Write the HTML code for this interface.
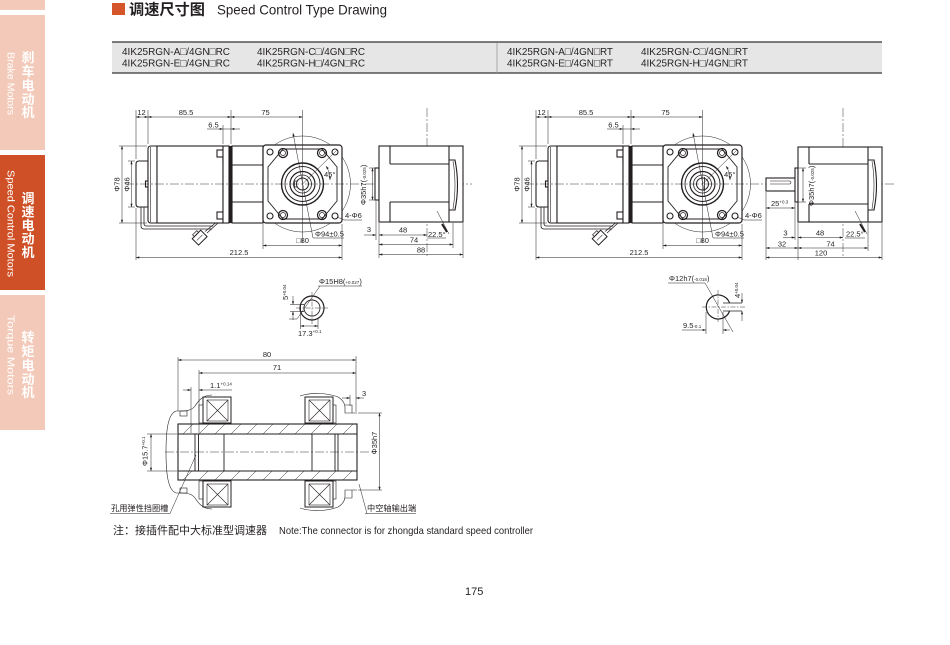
<!DOCTYPE html>
<html><head><meta charset="utf-8">
<style>
html,body{margin:0;padding:0;background:#fff;}
svg{display:block;}
text{font-family:"Liberation Sans","Noto Sans CJK SC",sans-serif;}
</style></head>
<body>
<svg width="950" height="645" viewBox="0 0 950 645" xmlns="http://www.w3.org/2000/svg">
<defs>
<marker id="ar" viewBox="0 0 6 4" refX="6" refY="2" markerWidth="4.5" markerHeight="2.2" orient="auto-start-reverse" markerUnits="userSpaceOnUse"><path d="M0,0L6,2L0,4z" fill="#231f20"/></marker>
</defs>
<rect width="950" height="645" fill="#fff"/>

<!-- sidebar -->
<rect x="0" y="0" width="45" height="10" fill="#f3cab9"/>
<rect x="0" y="15" width="45" height="135" fill="#f3cab9"/>
<rect x="0" y="155" width="45" height="135" fill="#cf5026"/>
<rect x="0" y="295" width="45" height="135" fill="#f3cab9"/>
<g fill="#fff" font-size="13" font-weight="bold" text-anchor="middle">
<text x="28" y="62">刹</text><text x="28" y="76">车</text><text x="28" y="90">电</text><text x="28" y="104">动</text><text x="28" y="117">机</text>
<text x="28" y="203">调</text><text x="28" y="216.5">速</text><text x="28" y="230">电</text><text x="28" y="243.5">动</text><text x="28" y="257">机</text>
<text x="28" y="342">转</text><text x="28" y="356">矩</text><text x="28" y="370">电</text><text x="28" y="384">动</text><text x="28" y="397">机</text>
</g>
<g fill="#fff" font-size="10">
<text transform="translate(7.5,52) rotate(90)" textLength="63" lengthAdjust="spacingAndGlyphs">Brake Motors</text>
<text transform="translate(7.5,170) rotate(90)" textLength="107" lengthAdjust="spacingAndGlyphs">Speed Control Motors</text>
<text transform="translate(7.5,315) rotate(90)" textLength="80" lengthAdjust="spacingAndGlyphs">Torque Motors</text>
</g>

<!-- header -->
<rect x="112" y="3" width="13" height="12" fill="#d4562a"/>
<text x="129" y="14.5" font-size="15" font-weight="bold" fill="#231f20" textLength="76" lengthAdjust="spacingAndGlyphs">调速尺寸图</text>
<text x="217" y="14.5" font-size="14" fill="#231f20" textLength="170" lengthAdjust="spacingAndGlyphs">Speed Control Type Drawing</text>

<!-- table -->
<rect x="112" y="42" width="770" height="31" fill="#e6e6e6"/>
<line x1="112" y1="42" x2="882" y2="42" stroke="#333" stroke-width="1.3"/>
<line x1="112" y1="73" x2="882" y2="73" stroke="#333" stroke-width="1.3"/>
<line x1="497" y1="43" x2="497" y2="73" stroke="#999" stroke-width="0.8"/>
<g font-size="10.5" fill="#231f20">
<text x="122" y="55" textLength="108" lengthAdjust="spacingAndGlyphs">4IK25RGN-A□/4GN□RC</text>
<text x="122" y="66.5" textLength="108" lengthAdjust="spacingAndGlyphs">4IK25RGN-E□/4GN□RC</text>
<text x="257" y="55" textLength="108" lengthAdjust="spacingAndGlyphs">4IK25RGN-C□/4GN□RC</text>
<text x="257" y="66.5" textLength="108" lengthAdjust="spacingAndGlyphs">4IK25RGN-H□/4GN□RC</text>
<text x="507" y="55" textLength="106" lengthAdjust="spacingAndGlyphs">4IK25RGN-A□/4GN□RT</text>
<text x="507" y="66.5" textLength="106" lengthAdjust="spacingAndGlyphs">4IK25RGN-E□/4GN□RT</text>
<text x="641" y="55" textLength="107" lengthAdjust="spacingAndGlyphs">4IK25RGN-C□/4GN□RT</text>
<text x="641" y="66.5" textLength="107" lengthAdjust="spacingAndGlyphs">4IK25RGN-H□/4GN□RT</text>
</g>

<!-- ============ gear motor group (left) ============ -->
<g id="gm">
 <g stroke="#231f20" fill="none">
  <circle cx="302.5" cy="184" r="48" stroke-width="0.5"/>
  <path d="M141,206 V226 Q141,229 144,229 H212 M144,206 V223.5 Q144,226 146.5,226 H213" stroke-width="0.8"/>
  <path d="M218,223 L207,233 M215.5,223 L205,231.5" stroke-width="0.8"/>
  <g transform="rotate(-45 200 238)"><rect x="194" y="233" width="12" height="9" fill="#fff" stroke-width="1"/><rect x="197" y="230.5" width="6" height="2.5" stroke-width="0.7"/><line x1="196" y1="237.5" x2="204" y2="237.5" stroke-width="0.5"/></g>
 </g>
 <g fill="#fff" stroke="#231f20" stroke-width="1.1">
  <path d="M148,161 L139,161 Q136,161 136,164 L136,204 Q136,207 139,207 L148,207 Z"/>
  <rect x="145.5" y="181" width="3" height="6"/>
  <path d="M157,146 L151,146 Q148,146 148,149 L148,220 Q148,223 151,223 L157,223 Z"/>
  <rect x="157" y="146" width="66" height="77"/>
  <rect x="217" y="150" width="6" height="7"/>
  <rect x="223" y="157" width="4" height="6"/>
  <rect x="217" y="212" width="6" height="7"/>
  <rect x="223" y="146" width="6" height="77"/>
  <rect x="232" y="146" width="31" height="77"/>
  <path d="M232,165 L263,165 M232,202 L263,202" fill="none"/>
  <line x1="150.5" y1="147" x2="150.5" y2="222" fill="none" stroke-width="0.6"/>
 </g>
 <rect x="229" y="146" width="3" height="77" fill="#231f20"/>
 <g stroke="#231f20" fill="none">
  <rect x="263" y="145" width="79" height="78" rx="3" fill="#fff" stroke-width="1.2"/>
  <path d="M283,149 L322,149 L337,167 L337,201 L322,219 L283,219 L268,201 L268,167 Z" stroke-width="0.9"/>
  <g stroke-width="1.1">
   <circle cx="270" cy="152" r="3"/><circle cx="335" cy="152" r="3"/>
   <circle cx="270" cy="216" r="3"/><circle cx="335" cy="216" r="3"/>
  </g>
  <g stroke-width="1.3">
   <circle cx="283" cy="153" r="4.5"/><circle cx="322" cy="153" r="4.5"/>
   <circle cx="283" cy="215" r="4.5"/><circle cx="322" cy="215" r="4.5"/>
  </g>
  <g stroke-width="0.7">
   <circle cx="283" cy="153" r="2.5"/><circle cx="322" cy="153" r="2.5"/>
   <circle cx="283" cy="215" r="2.5"/><circle cx="322" cy="215" r="2.5"/>
  </g>
  <circle cx="302.5" cy="184" r="21" stroke-width="1.4"/>
  <circle cx="302.5" cy="184" r="17.5" stroke-width="0.9"/>
  <circle cx="302.5" cy="184" r="12.5" stroke-width="1.2"/>
  <circle cx="302.5" cy="184" r="9" stroke-width="0.8"/>
 </g>
 <g stroke="#231f20" fill="none" stroke-width="0.5">
  <line x1="302.5" y1="110" x2="302.5" y2="243"/>
  <line x1="293" y1="133" x2="313" y2="238" marker-start="url(#ar)"/>
  <line x1="313" y1="238" x2="344" y2="238"/>
  <line x1="302.5" y1="184" x2="337" y2="150"/>
  <path d="M326,166 Q330,172 330,180" marker-end="url(#ar)" marker-start="url(#ar)"/>
  <line x1="337" y1="217" x2="344" y2="220"/>
  <line x1="344" y1="220" x2="362" y2="220"/>
 </g>
 <g stroke="#231f20" fill="none" stroke-width="0.5">
  <path d="M136,159 V110 M148,144 V110 M231,144 V110 M223,144 V125"/>
  <line x1="136" y1="117" x2="148" y2="117" marker-start="url(#ar)" marker-end="url(#ar)"/>
  <line x1="148" y1="117" x2="231" y2="117" marker-start="url(#ar)" marker-end="url(#ar)"/>
  <line x1="231" y1="117" x2="302.5" y2="117" marker-start="url(#ar)" marker-end="url(#ar)"/>
  <line x1="207" y1="129" x2="223" y2="129" marker-end="url(#ar)"/>
  <line x1="240" y1="129" x2="231" y2="129" marker-end="url(#ar)"/>
  <line x1="223" y1="129" x2="231" y2="129"/>
  <path d="M119,146 H147 M119,223 H147 M128,161 H135 M128,207 H135"/>
  <line x1="122" y1="146" x2="122" y2="223" marker-start="url(#ar)" marker-end="url(#ar)"/>
  <line x1="131.5" y1="161" x2="131.5" y2="207" marker-start="url(#ar)" marker-end="url(#ar)"/>
  <path d="M136,208 V260 M342,224 V260 M263,224 V249"/>
  <line x1="263" y1="245.5" x2="342" y2="245.5" marker-start="url(#ar)" marker-end="url(#ar)"/>
  <line x1="136" y1="257.5" x2="342" y2="257.5" marker-start="url(#ar)" marker-end="url(#ar)"/>
 </g>
 <g font-size="7.5" fill="#231f20">
  <text x="141.5" y="115" text-anchor="middle">12</text>
  <text x="186" y="115" text-anchor="middle">85.5</text>
  <text x="265.5" y="115" text-anchor="middle">75</text>
  <text x="213.5" y="127.5" text-anchor="middle">6.5</text>
  <text x="302.5" y="243" text-anchor="middle">□80</text>
  <text x="239" y="255" text-anchor="middle">212.5</text>
  <text transform="translate(119.5,184.5) rotate(-90)" text-anchor="middle">Φ78</text>
  <text transform="translate(129.5,184.5) rotate(-90)" text-anchor="middle">Φ46</text>
  <text x="315" y="236.5">Φ94±0.5</text>
  <text x="324" y="177">45°</text>
  <text x="345" y="218">4-Φ6</text>
 </g>
</g>
<use href="#gm" transform="translate(400,0)"/>

<!-- center lines -->
<g stroke="#231f20" stroke-width="0.45" fill="none" stroke-dasharray="9 2 2 2">
 <line x1="125" y1="184" x2="472" y2="184"/>
 <line x1="525" y1="184" x2="895" y2="184"/>
 <line x1="427" y1="108" x2="427" y2="258"/>
 <line x1="843" y1="108" x2="843" y2="258"/>
</g>

<g stroke="#231f20" fill="none">
 <circle cx="302.5" cy="184" r="6" stroke-width="1"/>
 <path d="M297,181 H294.5 V187 H297" stroke-width="0.8"/>
</g>
<g stroke="#231f20" fill="none">
 <circle cx="702.5" cy="184" r="6" stroke-width="1"/>
 <line x1="704.5" y1="177" x2="704.5" y2="191" stroke-width="0.8"/>
</g>

<!-- left side view (hollow shaft) -->
<g stroke="#231f20" fill="#fff" stroke-width="1.1">
 <rect x="375" y="168" width="4" height="32"/>
 <rect x="379" y="146" width="84" height="76"/>
 <path d="M390,146 V164 M390,202 V222 M390,164 H449 M390,202 H449 M449,146 V222" fill="none"/>
 <path d="M449,160 H455 Q460,185 455,210 H449" fill="none"/>
 <path d="M453,161 Q457,185 453,209" fill="none" stroke-width="0.6"/>
</g>
<g stroke="#231f20" fill="none" stroke-width="0.5">
 <path d="M369,168 H375 M369,200 H375"/>
 <line x1="372.5" y1="168" x2="372.5" y2="200" marker-start="url(#ar)" marker-end="url(#ar)"/>
 <path d="M376,201 V240 M379,223 V258 M453,223 V248 M463,223 V258"/>
 <line x1="364" y1="235" x2="376" y2="235" marker-end="url(#ar)"/>
 <line x1="379" y1="235" x2="427" y2="235" marker-start="url(#ar)" marker-end="url(#ar)"/>
 <line x1="379" y1="244.5" x2="453" y2="244.5" marker-start="url(#ar)" marker-end="url(#ar)"/>
 <line x1="379" y1="254.5" x2="463" y2="254.5" marker-start="url(#ar)" marker-end="url(#ar)"/>
 <line x1="437" y1="211" x2="449" y2="234"/>
 <line x1="427" y1="238" x2="446" y2="238"/>
</g>
<line x1="442" y1="224" x2="447" y2="232" stroke="#231f20" stroke-width="2"/>
<g font-size="7.5" fill="#231f20">
 <text x="369" y="232" text-anchor="middle">3</text>
 <text x="403" y="232.5" text-anchor="middle">48</text>
 <text x="414" y="242.5" text-anchor="middle">74</text>
 <text x="421" y="252.5" text-anchor="middle">88</text>
 <text x="428" y="237">22.5°</text>
 <text transform="translate(366,205) rotate(-90)">Φ35h7(<tspan font-size="4.5">-0.025</tspan>)</text>
</g>

<!-- right side view (solid shaft) -->
<g stroke="#231f20" fill="#fff" stroke-width="1.1">
 <rect x="766" y="178" width="30" height="13"/>
 <path d="M770,181 H790 Q792,182.5 790,184 H770" fill="none" stroke-width="0.6"/>
 <rect x="795" y="168" width="3" height="34"/>
 <rect x="798" y="147" width="84" height="75"/>
 <path d="M809,147 V164 M809,204 V222 M809,164 H868 M809,204 H868 M868,147 V222" fill="none"/>
 <path d="M868,160 H874 Q879,185 874,210 H868" fill="none"/>
 <path d="M872,161 Q876,185 872,209" fill="none" stroke-width="0.6"/>
</g>
<g stroke="#231f20" fill="none" stroke-width="0.5">
 <path d="M798,168 H806 M798,202 H806"/>
 <line x1="803" y1="168" x2="803" y2="202" marker-start="url(#ar)" marker-end="url(#ar)"/>
 <path d="M766,192 V260 M795,203 V240 M798,223 V260 M868,223 V251 M882,223 V260"/>
 <line x1="766" y1="208" x2="795" y2="208" marker-start="url(#ar)" marker-end="url(#ar)"/>
 <line x1="783" y1="237.5" x2="795" y2="237.5" marker-end="url(#ar)"/>
 <line x1="798" y1="237.5" x2="843" y2="237.5" marker-start="url(#ar)" marker-end="url(#ar)"/>
 <line x1="766" y1="248" x2="798" y2="248" marker-start="url(#ar)" marker-end="url(#ar)"/>
 <line x1="798" y1="248" x2="868" y2="248" marker-start="url(#ar)" marker-end="url(#ar)"/>
 <line x1="766" y1="257.5" x2="882" y2="257.5" marker-start="url(#ar)" marker-end="url(#ar)"/>
 <line x1="855" y1="211" x2="867" y2="234"/>
 <line x1="845" y1="238" x2="865" y2="238"/>
</g>
<line x1="860" y1="224" x2="865" y2="232" stroke="#231f20" stroke-width="2"/>
<g font-size="7.5" fill="#231f20">
 <text x="785.5" y="235.5" text-anchor="middle">3</text>
 <text x="820" y="235.5" text-anchor="middle">48</text>
 <text x="846" y="236.5">22.5°</text>
 <text x="782" y="246.5" text-anchor="middle">32</text>
 <text x="830.5" y="246.5" text-anchor="middle">74</text>
 <text x="821" y="255.5" text-anchor="middle">120</text>
 <text x="771" y="206">25<tspan font-size="4.5" dy="-2.5">+0.3</tspan></text>
 <text transform="translate(814,206) rotate(-90)">Φ35h7(<tspan font-size="4.5">-0.025</tspan>)</text>
</g>

<!-- shaft detail left -->
<g stroke="#231f20" fill="none">
 <circle cx="312" cy="308" r="12" stroke-width="1.2"/>
 <circle cx="312" cy="308" r="8" stroke-width="0.9"/>
 <path d="M304,304.5 H300.5 V311.5 H304" stroke-width="0.8"/>
 <g stroke-width="0.45" stroke-dasharray="5 1.5 1.5 1.5">
  <line x1="312" y1="292" x2="312" y2="324"/>
  <line x1="296" y1="308" x2="328" y2="308"/>
 </g>
 <g stroke-width="0.5">
  <path d="M290,304.5 H300 M290,311.5 H300"/>
  <line x1="293" y1="296" x2="293" y2="304.5" marker-end="url(#ar)"/>
  <line x1="293" y1="320" x2="293" y2="311.5" marker-end="url(#ar)"/>
  <line x1="318" y1="286" x2="362" y2="286"/>
  <line x1="320" y1="286" x2="297" y2="319"/>
  <line x1="297" y1="319" x2="289" y2="319"/>
  <path d="M300.5,313 V329 M318,318 V329"/>
  <line x1="300.5" y1="326" x2="318" y2="326" marker-start="url(#ar)" marker-end="url(#ar)"/>
 </g>
</g>
<g font-size="7.5" fill="#231f20">
 <text x="319" y="284">Φ15H8(<tspan font-size="4.5">+0.027</tspan>)</text>
 <text x="298" y="336">17.3<tspan font-size="4.5" dy="-3">+0.1</tspan></text>
 <text transform="translate(288,300) rotate(-90)">5<tspan font-size="4.5" dy="-2">+0.04</tspan></text>
</g>

<!-- shaft detail right -->
<g stroke="#231f20" fill="none">
 <path d="M729.6,303 A12,12 0 1 0 729.6,311" stroke-width="1.2"/>
 <path d="M723,303 H742 M723,311 H742" stroke-width="0.8"/>
 <g stroke-width="0.45" stroke-dasharray="5 1.5 1.5 1.5">
  <line x1="718" y1="290" x2="718" y2="322"/>
  <line x1="702" y1="307" x2="745" y2="307"/>
 </g>
 <g stroke-width="0.5">
  <line x1="742" y1="293" x2="742" y2="303" marker-end="url(#ar)"/>
  <line x1="742" y1="321" x2="742" y2="311" marker-end="url(#ar)"/>
  <line x1="668" y1="283" x2="705" y2="283"/>
  <line x1="705" y1="283" x2="733" y2="332"/>
  <path d="M706,312 V334 M723,312 V334"/>
  <line x1="682" y1="330" x2="706" y2="330" marker-end="url(#ar)"/>
  <line x1="730" y1="330" x2="723" y2="330" marker-end="url(#ar)"/>
 </g>
</g>
<g font-size="7.5" fill="#231f20">
 <text x="669" y="281">Φ12h7(<tspan font-size="4.5">-0.018</tspan>)</text>
 <text x="683" y="328">9.5<tspan font-size="4.5">-0.1</tspan></text>
 <text transform="translate(740,298) rotate(-90)">4<tspan font-size="4.5" dy="-2">+0.04</tspan></text>
</g>

<!-- hollow shaft section -->
<g stroke="#231f20" fill="none">
 <g stroke-width="0.6">
  <path d="M212,395 C203,395 199,400 195,406 C192,410 188,411 180,411 L176,411 C168,414 166,430 166,452 C166,474 168,490 176,493 L180,493 C188,493 192,494 195,498 C199,504 203,509 212,509"/>
  <path d="M300,396 C312,392 328,393 338,397 C343,400 345,404 345,408 L345,413 L357,413"/>
  <path d="M300,508 C312,512 328,511 338,507 C343,504 345,500 345,496 L345,490 L357,490"/>
  <rect x="180" y="411" width="7" height="5"/>
  <rect x="180" y="488" width="7" height="5"/>
  <path d="M345,405 H352 V413 M345,498 H352 V490"/>
 </g>
 <rect x="178" y="424" width="179" height="56" fill="#fff" stroke-width="1.1"/>
 <g stroke-width="0.9">
  <path d="M178,434 H357 M178,471 H357"/>
  <path d="M224,434 V471 M312,434 V471"/>
  <path d="M195,434 V471 M198.5,434 V471 M335,434 V471 M338,434 V471"/>
 </g>
 <g stroke-width="0.5">
  <path d="M183,434 L193,424 M199,434 L209,424 M215,434 L225,424 M231,434 L241,424 M247,434 L257,424 M263,434 L273,424 M279,434 L289,424 M295,434 L305,424 M311,434 L321,424 M327,434 L337,424 M343,434 L353,424"/>
  <path d="M183,480 L192,471 M199,480 L208,471 M215,480 L224,471 M231,480 L240,471 M247,480 L256,471 M263,480 L272,471 M279,480 L288,471 M295,480 L304,471 M311,480 L320,471 M327,480 L336,471 M343,480 L352,471"/>
 </g>
 <g stroke-width="1" fill="#fff">
  <rect x="203" y="397" width="28" height="26"/><rect x="203" y="481" width="28" height="26"/>
  <rect x="305" y="397" width="28" height="26"/><rect x="305" y="481" width="28" height="26"/>
 </g>
 <g stroke-width="0.6">
  <rect x="207" y="400" width="21" height="21"/><path d="M207,400 L228,421 M228,400 L207,421"/>
  <rect x="207" y="484" width="21" height="21"/><path d="M207,484 L228,505 M228,484 L207,505"/>
  <rect x="309" y="400" width="21" height="21"/><path d="M309,400 L330,421 M330,400 L309,421"/>
  <rect x="309" y="484" width="21" height="21"/><path d="M309,484 L330,505 M330,484 L309,505"/>
  <rect x="199" y="405" width="4" height="18"/><rect x="199" y="481" width="4" height="18"/>
  <rect x="333" y="405" width="3" height="18"/><rect x="333" y="481" width="3" height="18"/>
 </g>
 <line x1="165" y1="452" x2="376" y2="452" stroke-width="0.45" stroke-dasharray="9 2 2 2"/>
 <g stroke-width="0.5">
  <path d="M178,357 V411 M356,356 V412 M199,370 V433 M191,387 V433 M350,395 V406"/>
  <line x1="178" y1="360" x2="356" y2="360" marker-start="url(#ar)" marker-end="url(#ar)"/>
  <line x1="199" y1="373" x2="356" y2="373" marker-start="url(#ar)" marker-end="url(#ar)"/>
  <line x1="183" y1="390" x2="191" y2="390" marker-end="url(#ar)"/>
  <line x1="232" y1="390" x2="199" y2="390" marker-end="url(#ar)"/>
  <line x1="342" y1="398" x2="350" y2="398" marker-end="url(#ar)"/>
  <line x1="364" y1="398" x2="356" y2="398" marker-end="url(#ar)"/>
  <path d="M147,434 H177 M147,471 H177"/>
  <line x1="151" y1="434" x2="151" y2="471" marker-start="url(#ar)" marker-end="url(#ar)"/>
  <path d="M358,413 H382 M358,490 H382"/>
  <line x1="379.5" y1="413" x2="379.5" y2="490" marker-start="url(#ar)" marker-end="url(#ar)"/>
  <path d="M110,513.5 H170 L196,455"/>
  <path d="M365,513.5 H416 M367,513.5 L359,484"/>
 </g>
</g>
<g font-size="7.5" fill="#231f20">
 <text x="267" y="357" text-anchor="middle">80</text>
 <text x="277" y="370" text-anchor="middle">71</text>
 <text x="210" y="388">1.1<tspan font-size="4.5" dy="-2.5">+0.14</tspan></text>
 <text x="362" y="396">3</text>
 <text transform="translate(147.5,466) rotate(-90)">Φ15.7<tspan font-size="4.5" dy="-2.5">+0.1</tspan></text>
 <text transform="translate(377,443) rotate(-90)" text-anchor="middle">Φ35h7</text>
 <text x="111" y="511" font-size="8.2">孔用弹性挡圈槽</text>
 <text x="367" y="511" font-size="8.2">中空轴输出端</text>
</g>

<!-- note -->
<text x="113" y="534" font-size="11" fill="#231f20">注：接插件配中大标准型调速器</text>
<text x="279" y="534" font-size="10.5" fill="#231f20" textLength="254" lengthAdjust="spacingAndGlyphs">Note:The connector is for zhongda standard speed controller</text>
<text x="465" y="595" font-size="11" fill="#231f20">175</text>
</svg>
</body></html>
